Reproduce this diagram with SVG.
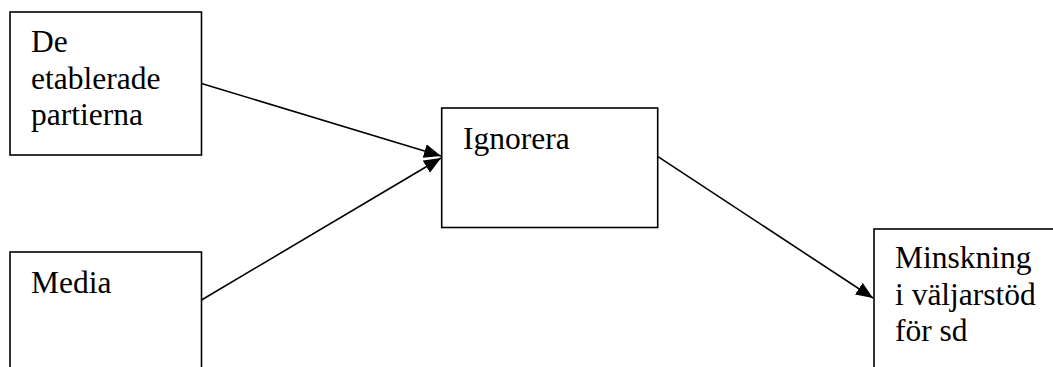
<svg xmlns="http://www.w3.org/2000/svg" width="1053" height="367" viewBox="0 0 1053 367">
<style>
.box{fill:#fff;stroke:#000;stroke-width:1.6}
.t{font-family:"Liberation Serif","Times New Roman",serif;font-size:31.5px;fill:#000}
.c{stroke:#000;stroke-width:1.6;fill:none}
</style>
<defs>
<marker id="ah" markerUnits="userSpaceOnUse" markerWidth="20" markerHeight="16" refX="17" refY="7" orient="auto">
<path d="M0,0 L17,7 L0,14 Z" fill="#000"/>
</marker>
</defs>
<g id="n1"><rect class="box" x="10" y="12" width="191.5" height="143"/>
<text class="t" x="31" y="52">De</text><text class="t" x="31" y="88.5">etablerade</text><text class="t" x="31" y="125">partierna</text></g>
<g id="n2"><rect class="box" x="10" y="252" width="191.5" height="130"/>
<text class="t" x="31" y="292.7">Media</text></g>
<g id="n3"><rect class="box" x="441.7" y="108" width="216" height="119.5"/>
<text class="t" x="463" y="148.5">Ignorera</text></g>
<g id="n4"><rect class="box" x="874" y="229" width="200" height="150"/>
<text class="t" x="895" y="268">Minskning</text><text class="t" x="895" y="304.5">i väljarstöd</text><text class="t" x="895" y="341">för sd</text></g>
<g id="connectors">
<line class="c" x1="201.5" y1="83.5" x2="441" y2="156" marker-end="url(#ah)"/>
<line class="c" x1="201.5" y1="300" x2="441" y2="158" marker-end="url(#ah)"/>
<line class="c" x1="658" y1="156.7" x2="873" y2="298" marker-end="url(#ah)"/>
</g>
</svg>
